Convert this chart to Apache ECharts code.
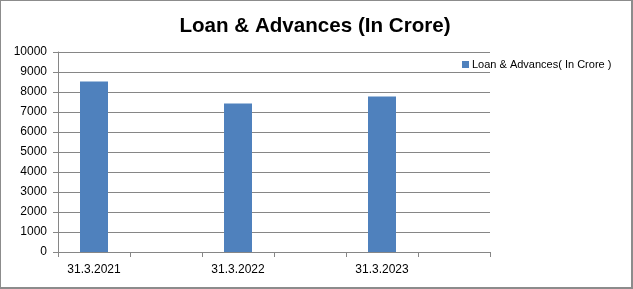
<!DOCTYPE html>
<html><head><meta charset="utf-8">
<script src="https://cdn.jsdelivr.net/npm/echarts@6/dist/echarts.min.js"></script>
<style>
html,body{margin:0;padding:0;background:#fff;}
#wrap{position:absolute;left:0;top:0;width:633px;height:289px;box-sizing:border-box;border-style:solid;border-color:#8c8c8c;border-width:1px 2px 2px 1px;}
#c{position:absolute;left:0;top:0;width:633px;height:289px;}
</style></head><body>
<div id="c"></div><div id="wrap"></div>
<script>
const categories = ['31.3.2021', '', '31.3.2022', '', '31.3.2023', ''];
const loanValues = [8520, null, 7420, null, 7770, null];
const yTicks = [0, 1000, 2000, 3000, 4000, 5000, 6000, 7000, 8000, 9000, 10000];
const seriesName = 'Loan & Advances( In Crore )';
const titleText = 'Loan & Advances (In Crore)';

const chart = echarts.init(document.getElementById('c'), null, {renderer: 'canvas'});
const font = 'Liberation Sans, Arial, sans-serif';
chart.setOption({
  animation: false,
  textStyle: {fontFamily: font},
  title: {
    text: titleText, left: 310, top: 11, textAlign: 'center',
    textStyle: {fontFamily: font, fontWeight: 'bold', fontSize: 20.6, color: '#000'}
  },
  legend: {
    data: [seriesName], left: 457, top: 54, itemWidth: 7, itemHeight: 7, itemGap: 0,
    icon: 'rect',
    textStyle: {fontFamily: font, fontSize: 11, color: '#000', padding: [0, 0, 0, -2]}
  },
  grid: {left: 58, right: 143, top: 52, bottom: 37, containLabel: false},
  xAxis: {
    type: 'category', data: categories,
    axisLine: {lineStyle: {color: '#868686', width: 1}},
    axisTick: {show: true, length: 5, interval: 0, lineStyle: {color: '#868686'}},
    axisLabel: {interval: 0, fontSize: 12, color: '#000', margin: 12, fontFamily: font}
  },
  yAxis: {
    type: 'value', min: yTicks[0], max: yTicks[yTicks.length - 1], interval: 1000,
    axisLine: {show: true, lineStyle: {color: '#868686'}},
    axisTick: {show: true, length: 5, lineStyle: {color: '#868686'}},
    splitLine: {lineStyle: {color: '#868686', width: 1}},
    axisLabel: {fontSize: 12, color: '#000', margin: 11, fontFamily: font, formatter: v => String(v)}
  },
  series: [{
    name: seriesName, type: 'bar', data: loanValues, barWidth: 28,
    itemStyle: {color: '#4F81BD'}
  }]
});
</script>
</body></html>
